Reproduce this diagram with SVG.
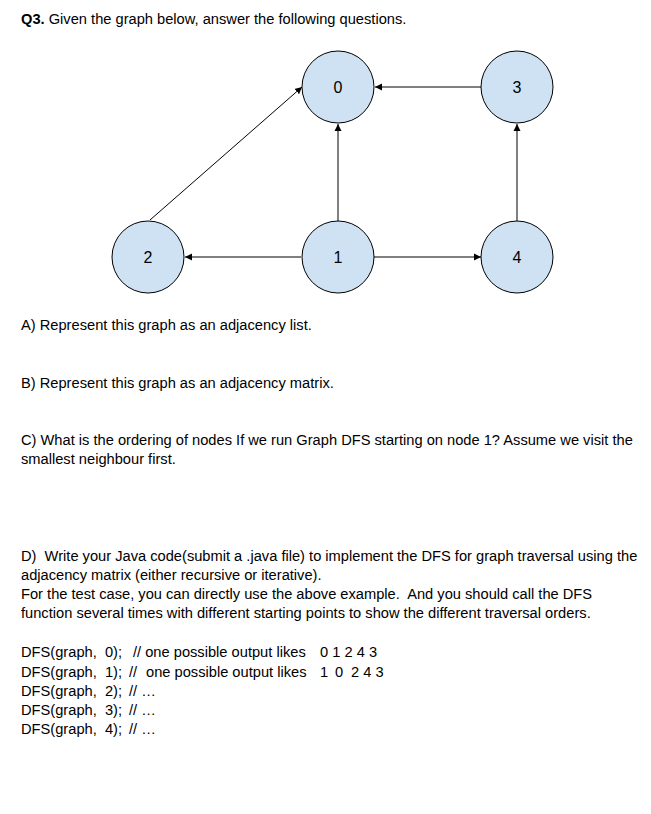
<svg xmlns="http://www.w3.org/2000/svg" width="651" height="814" viewBox="0 0 651 814">
<defs>
<style>
text{font-family:"Liberation Sans",Arial,sans-serif;fill:#000;white-space:pre}
.t{font-size:14.67px}
.n{font-size:16px;text-anchor:middle}
.c{fill:#cfe2f3;stroke:#000;stroke-width:1}
.e{stroke:#000;stroke-width:1;fill:none;marker-end:url(#ah)}
</style>
<marker id="ah" markerWidth="8" markerHeight="8" refX="7" refY="4" orient="auto" markerUnits="userSpaceOnUse">
<path d="M0,0.5 L7,4 L0,7.5 Z" fill="#000"/>
</marker>
</defs>
<rect width="651" height="814" fill="#fff"/>
<text class="t" x="21" y="24"><tspan font-weight="bold">Q3.</tspan> Given the graph below, answer the following questions.</text>
<g id="connectors">
<line class="e" x1="481" y1="87" x2="375" y2="87"/>
<line class="e" x1="338" y1="221" x2="338" y2="124"/>
<line class="e" x1="517" y1="221" x2="517" y2="124"/>
<line class="e" x1="301" y1="257" x2="185" y2="257"/>
<line class="e" x1="374" y1="257" x2="481" y2="257"/>
<line class="e" x1="150" y1="220" x2="302" y2="87"/>
</g>
<g id="node0"><circle class="c" cx="338" cy="87" r="36"/><text class="n" x="338" y="93">0</text></g>
<g id="node3"><circle class="c" cx="517" cy="87" r="36"/><text class="n" x="517" y="93">3</text></g>
<g id="node2"><circle class="c" cx="148" cy="257" r="36"/><text class="n" x="148" y="263">2</text></g>
<g id="node1"><circle class="c" cx="338" cy="257" r="36"/><text class="n" x="338" y="263">1</text></g>
<g id="node4"><circle class="c" cx="517" cy="257" r="36"/><text class="n" x="517" y="263">4</text></g>
<text class="t" x="21" y="330">A) Represent this graph as an adjacency list.</text>
<text class="t" x="21" y="388">B) Represent this graph as an adjacency matrix.</text>
<text class="t" x="21" y="445">C) What is the ordering of nodes If we run Graph DFS starting on node 1? Assume we visit the</text>
<text class="t" x="21" y="464">smallest neighbour first.</text>
<text class="t" x="21" y="561">D)  Write your Java code(submit a .java file) to implement the DFS for graph traversal using the</text>
<text class="t" x="21" y="580">adjacency matrix (either recursive or iterative).</text>
<text class="t" x="21" y="599">For the test case, you can directly use the above example.  And you should call the DFS</text>
<text class="t" x="21" y="618">function several times with different starting points to show the different traversal orders.</text>
<text class="t" y="657"><tspan x="21">DFS(graph,  0);</tspan><tspan x="133">// one possible output likes</tspan><tspan x="320">0 1 2 4 3</tspan></text>
<text class="t" y="677"><tspan x="21">DFS(graph,  1);</tspan><tspan x="129">//</tspan><tspan x="146">one possible output likes</tspan><tspan x="320">1</tspan><tspan x="335">0</tspan><tspan x="351">2 4 3</tspan></text>
<text class="t" y="696"><tspan x="21">DFS(graph,  2);</tspan><tspan x="129">// …</tspan></text>
<text class="t" y="715"><tspan x="21">DFS(graph,  3);</tspan><tspan x="129">// …</tspan></text>
<text class="t" y="734"><tspan x="21">DFS(graph,  4);</tspan><tspan x="129">// …</tspan></text>
</svg>
